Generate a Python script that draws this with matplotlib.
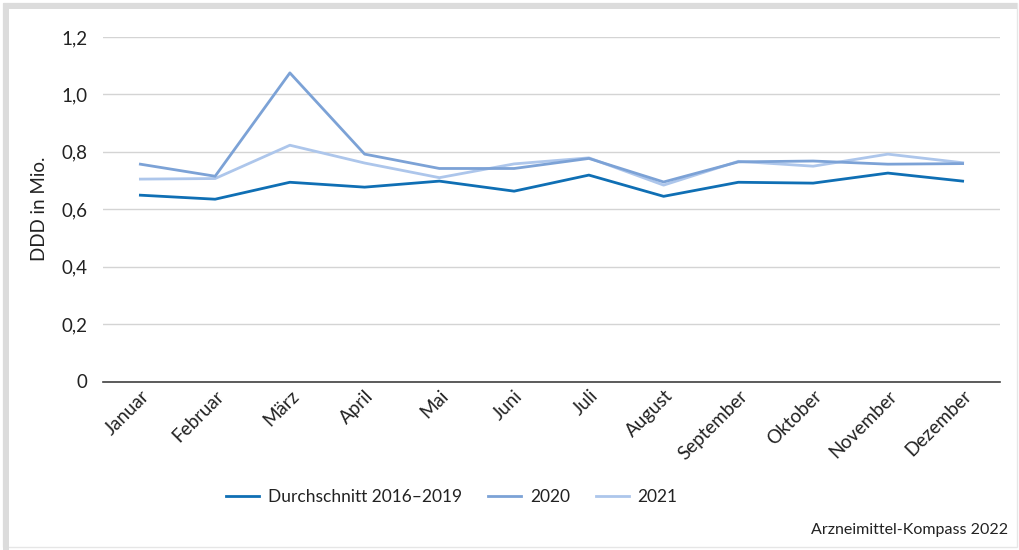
import matplotlib
matplotlib.use("Agg")
import matplotlib.pyplot as plt
from matplotlib.patches import Rectangle
from matplotlib.ticker import FuncFormatter

plt.rcParams['font.family'] = ['Lato', 'DejaVu Sans']

months = ["Januar", "Februar", "März", "April", "Mai", "Juni", "Juli", "August",
          "September", "Oktober", "November", "Dezember"]
avg_2016_2019 = [0.649, 0.635, 0.694, 0.677, 0.698, 0.663, 0.719, 0.645, 0.694, 0.691, 0.726, 0.698]
y2020 = [0.757, 0.715, 1.075, 0.792, 0.742, 0.742, 0.777, 0.695, 0.765, 0.768, 0.757, 0.759]
y2021 = [0.705, 0.707, 0.823, 0.761, 0.710, 0.758, 0.779, 0.684, 0.767, 0.750, 0.792, 0.762]
series_labels = ["Durchschnitt 2016–2019", "2020", "2021"]
yticks = [0, 0.2, 0.4, 0.6, 0.8, 1.0, 1.2]

colors = ["#0f6fb4", "#7ca2d6", "#adc6eb"]

fig = plt.figure(figsize=(10.2, 5.5), dpi=100)
ax = fig.add_axes([103/1020, 1 - 381.5/550, (1000-103)/1020, (381.5-37)/550])

x = list(range(len(months)))
ax.plot(x, y2021, color=colors[2], lw=2.0, label=series_labels[2], zorder=3)
ax.plot(x, y2020, color=colors[1], lw=2.0, label=series_labels[1], zorder=4)
ax.plot(x, avg_2016_2019, color=colors[0], lw=2.0, label=series_labels[0], zorder=5)

ax.set_xlim(-0.5, len(months) - 0.5)
ax.set_ylim(0, 1.2)
ax.set_yticks(yticks)
ax.yaxis.set_major_formatter(FuncFormatter(lambda v, p: "0" if v == 0 else f"{v:.1f}".replace(".", ",")))
ax.grid(axis='y', color="#d4d4d4", lw=1.0, zorder=0)
ax.set_axisbelow(True)
for s in ["top", "right", "left"]:
    ax.spines[s].set_visible(False)
ax.spines["bottom"].set_color("#404040")
ax.spines["bottom"].set_linewidth(1.2)
ax.tick_params(axis='y', length=0, pad=11, labelsize=13.5, labelcolor="#222222")
ax.tick_params(axis='x', length=0, pad=4, labelsize=13.5, labelcolor="#222222")
ax.set_xticks(x)
ax.set_xticklabels(months, rotation=45, ha='right', va='top', rotation_mode='anchor')
ax.set_ylabel("DDD in Mio.", fontsize=13.5, color="#222222", labelpad=10)

handles, labels = ax.get_legend_handles_labels()
order = [2, 1, 0]
leg = fig.legend([handles[i] for i in order], [labels[i] for i in order],
                 loc='center', bbox_to_anchor=(452/1020, 1 - 497/550), ncol=3,
                 frameon=False, fontsize=12.5, handlelength=1.9, columnspacing=1.5,
                 handletextpad=0.5)
for t in leg.get_texts():
    t.set_color("#222222")

fig.text(1008/1020, 1 - 530/550, "Arzneimittel-Kompass 2022", ha='right', va='center',
         fontsize=11.5, color="#222222")

# frame
fig.patches.append(Rectangle((3/1020, 3/550), 1 - 6/1020, 1 - 6/550, transform=fig.transFigure,
                             fill=False, edgecolor="#e6e6e6", lw=1.0))
fig.patches.append(Rectangle((3/1020, 0), 6/1020, 1 - 3/550, transform=fig.transFigure,
                             facecolor="#dcdcdc", edgecolor="none"))
fig.patches.append(Rectangle((3/1020, 1 - 9/550), 1 - 6/1020, 6/550, transform=fig.transFigure,
                             facecolor="#dcdcdc", edgecolor="none"))

fig.savefig("out.png", dpi=100)
